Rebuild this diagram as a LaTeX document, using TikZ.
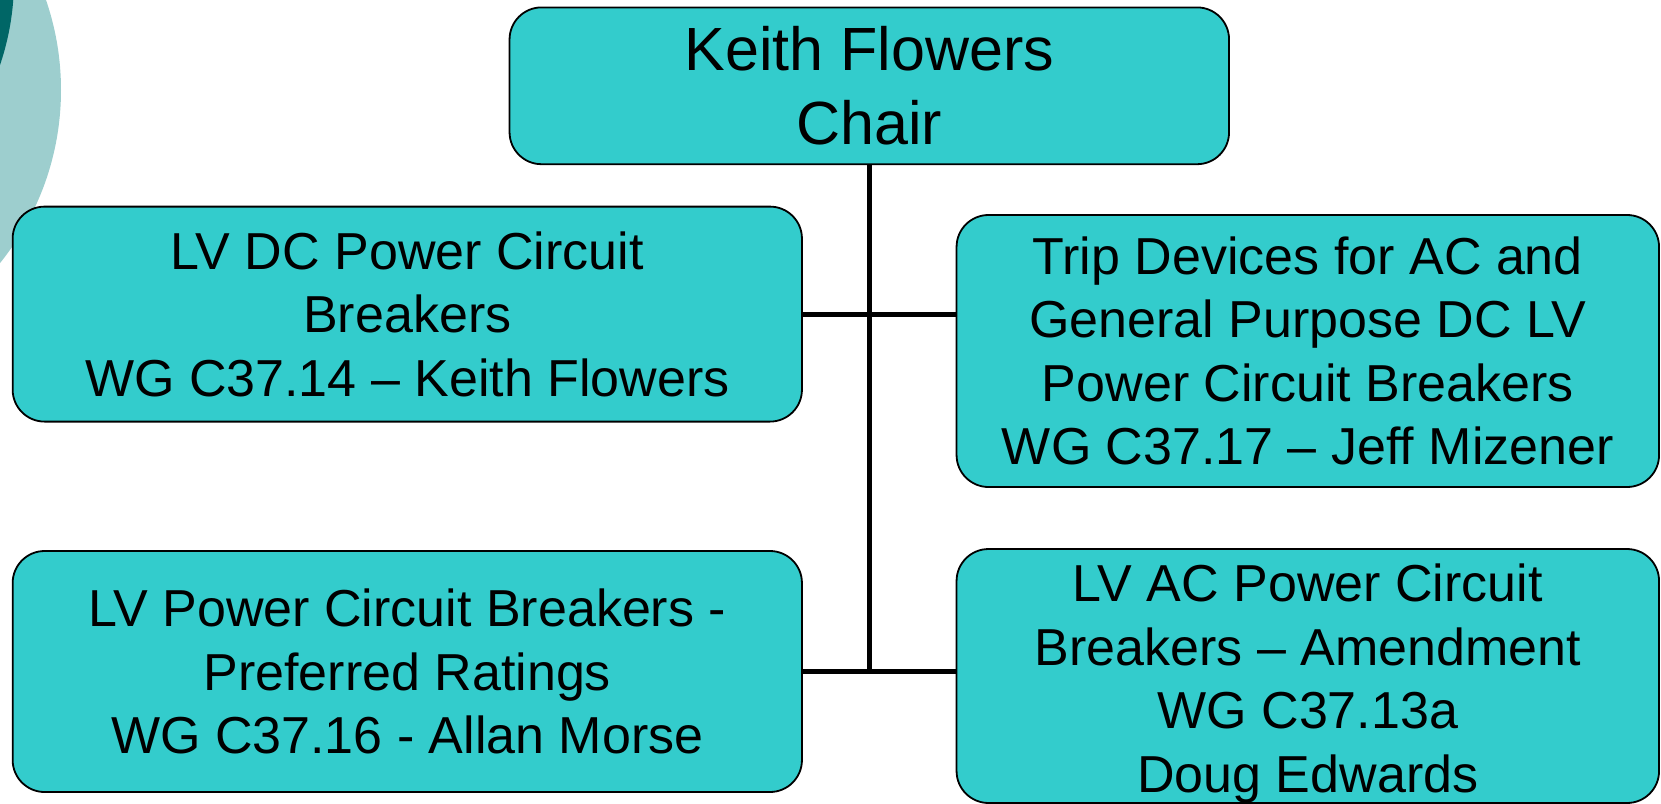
\documentclass[tikz,border=0pt]{standalone}
\usepackage{fontspec}
\setmainfont{Liberation Sans}
\definecolor{boxfill}{HTML}{33CCCC}
\definecolor{lightteal}{HTML}{9DCECE}
\definecolor{darkteal}{HTML}{006666}
\begin{document}
\begin{tikzpicture}[x=1pt,y=-1pt,
  orgbox/.style={draw=black, line width=1.8pt, fill=boxfill, rounded corners=32pt,
    align=center, inner sep=0pt, font=\fontsize{52}{63.5}\selectfont},
  topbox/.style={orgbox, font=\fontsize{61}{74}\selectfont},
  conn/.style={line width=4.8pt}]
\useasboundingbox (0,0) rectangle (1661,803);
\fill[lightteal] (-215,90) circle (276);
\fill[darkteal] (-250,-20) circle (264);
\node[topbox, minimum width=719.5pt, minimum height=156.8pt] (top) at (869.3,85.8) {Keith Flowers\\Chair};
\node[orgbox, minimum width=789.3pt, minimum height=215pt] (ltop) at (407.3,314.1) {LV DC Power Circuit\\Breakers\\WG C37.14 – Keith Flowers};
\node[orgbox, minimum width=702.5pt, minimum height=272pt] (rtop) at (1307.8,351) {Trip Devices for AC and\\General Purpose DC LV\\Power Circuit Breakers\\WG C37.17 – Jeff Mizener};
\node[orgbox, minimum width=789.3pt, minimum height=241pt] (lbot) at (407.3,671.5) {LV Power Circuit Breakers -\\Preferred Ratings\\WG C37.16 - Allan Morse};
\node[orgbox, minimum width=702.5pt, minimum height=250pt] (rbot) at (1307.8,676) {\raisebox{0pt}[\dimexpr\height+15pt\relax]{LV AC Power Circuit}\\Breakers – Amendment\\WG C37.13a\\Doug Edwards};
\draw[conn] (top.south) -- (top.south |- lbot.east);
\draw[conn] (ltop.east) -- (ltop.east -| rtop.west);
\draw[conn] (lbot.east) -- (lbot.east -| rbot.west);
\end{tikzpicture}
\end{document}
